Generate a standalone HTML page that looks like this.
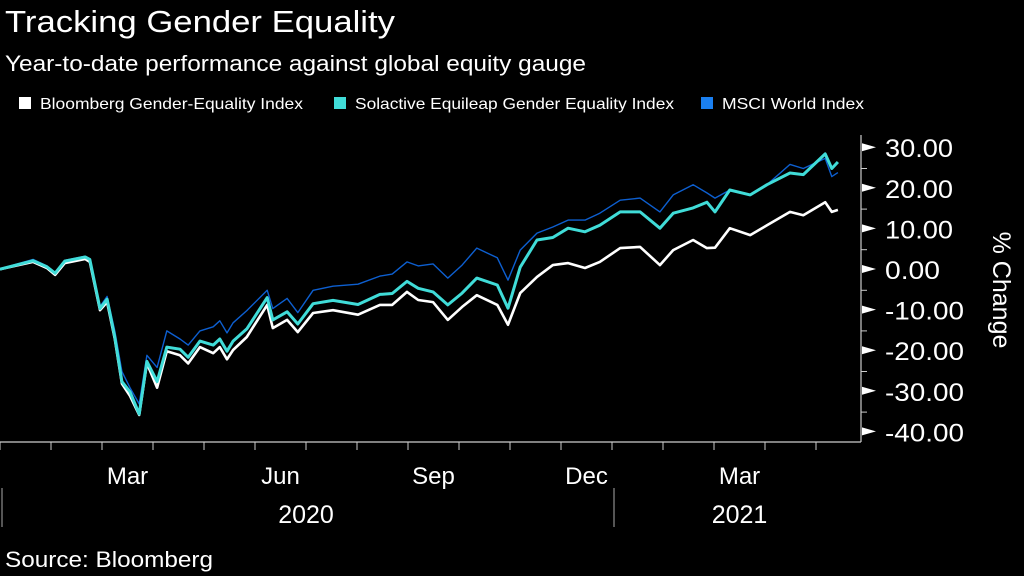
<!DOCTYPE html>
<html><head><meta charset="utf-8"><style>
body{margin:0;background:#000;width:1024px;height:576px;overflow:hidden;font-family:"Liberation Sans",sans-serif;color:#fff}
</style></head><body>
<svg width="1024" height="576" viewBox="0 0 1024 576" style="position:absolute;left:0;top:0">
<text x="5" y="32" font-size="31" fill="#fff" textLength="390" lengthAdjust="spacingAndGlyphs">Tracking Gender Equality</text>
<text x="5" y="71" font-size="22" fill="#fff" textLength="581" lengthAdjust="spacingAndGlyphs">Year-to-date performance against global equity gauge</text>
<g font-size="16" fill="#fff">
<g><rect x="19" y="97" width="12" height="12" fill="#fff"/><text x="40" y="109" textLength="263" lengthAdjust="spacingAndGlyphs">Bloomberg Gender-Equality Index</text></g>
<g><rect x="334" y="97" width="12" height="12" fill="#40dcd8"/><text x="355" y="109" textLength="319" lengthAdjust="spacingAndGlyphs">Solactive Equileap Gender Equality Index</text></g>
<g><rect x="701" y="97" width="12" height="12" fill="#1a7ff0"/><text x="722" y="109" textLength="142" lengthAdjust="spacingAndGlyphs">MSCI World Index</text></g>
</g>
<g id="axes"></g>
<g id="series"></g>
<text x="5" y="567" font-size="22" fill="#fff" textLength="208" lengthAdjust="spacingAndGlyphs">Source: Bloomberg</text>
</svg>
<script>
// dates as months since Jan 1 2020
const dates=[0,0.65,0.92,1.08,1.27,1.67,1.76,1.96,2.1,2.25,2.39,2.55,2.73,2.88,3.08,3.27,3.53,3.69,3.92,4.18,4.31,4.45,4.57,4.84,5.24,5.35,5.63,5.84,6.14,6.53,7.02,7.45,7.69,7.98,8.2,8.49,8.78,9.06,9.35,9.75,9.96,10.2,10.53,10.84,11.14,11.47,11.76,12.16,12.55,12.94,13.2,13.59,13.86,14.02,14.31,14.71,15.04,15.49,15.75,16.18,16.31,16.43];
const bloomberg=[0.2,2,0.5,-1.2,1.7,2.7,2,-9.9,-7.9,-17,-28,-31,-35.7,-23,-29,-20,-21,-23,-19,-20.5,-19,-22,-19.7,-16.5,-8.6,-14.3,-12.3,-15.3,-10.6,-9.9,-11,-8.6,-8.6,-5.4,-7.4,-7.9,-12.3,-9.1,-6.2,-8.6,-13.5,-5.7,-1.7,1.2,1.7,0.5,2,5.4,5.7,1.2,4.9,7.4,5.4,5.5,10.3,8.6,11,14.3,13.5,16.7,14.3,14.8];
const solactive=[0.2,2.3,0.8,-0.8,2.2,3.2,2.6,-9.5,-7.2,-16.5,-27.5,-30,-35.5,-22.5,-27.5,-19,-19.5,-21.5,-17.5,-18.5,-17,-20,-17.5,-14.5,-6.8,-12.3,-10.3,-13.3,-8.3,-7.5,-8.5,-6,-5.8,-2.8,-4.5,-5.4,-8.6,-5.7,-2,-3.7,-9.4,0.7,7.4,8,10.3,9.4,11,14.3,14.3,10.3,14,15.3,16.7,14.3,19.7,18.5,21,23.9,23.5,28.6,25,26.6];
const msci=[0.3,2.6,1,-0.6,2.4,3.4,2.8,-9,-6.5,-15,-25,-29,-33,-21,-24,-15,-17,-18.5,-15,-14,-12.5,-15.5,-13,-10,-5,-9.5,-7,-10.5,-5,-4,-3.5,-1.5,-1,2,1,1.5,-2,1.2,5.4,3,-2.5,4.9,9.1,10.6,12.3,12.3,14,17.2,17.7,14.3,18.5,21,19,17.7,19.7,18.5,21,26,25,27.5,23,24];
const yTicks=[30,20,10,0,-10,-20,-30,-40];
const yTickLabels=["30.00","20.00","10.00","0.00","-10.00","-20.00","-30.00","-40.00"];
const monthTicks=[0,1,2,3,4,5,6,7,8,9,10,11,12,13,14,15,16];
const monthLabels=[{m:2.5,t:"Mar"},{m:5.5,t:"Jun"},{m:8.5,t:"Sep"},{m:11.5,t:"Dec"},{m:14.5,t:"Mar"}];
const yearLabels=[{m:6,t:"2020"},{m:14.5,t:"2021"}];
const yearDividers=[0,12];

const NS="http://www.w3.org/2000/svg";
const X=m=>m*51;
const Y=v=>270-v*4.06;
function mk(tag,attrs,parent){const e=document.createElementNS(NS,tag);for(const k in attrs)e.setAttribute(k,attrs[k]);parent.appendChild(e);return e;}
const axes=document.getElementById('axes'),ser=document.getElementById('series');
let l=mk('line',{x1:0,y1:442,x2:861,y2:442,stroke:'#ccc','stroke-width':1.2},axes);


monthTicks.forEach(m=>{const t=mk('line',{x1:X(m),y1:442,x2:X(m),y2:450,stroke:'#ccc','stroke-width':1},axes);

});
monthLabels.forEach(o=>{const t=mk('text',{x:X(o.m),y:484,'font-size':24,fill:'#fff','text-anchor':'middle'},axes);t.textContent=o.t;

});
yearLabels.forEach(o=>{const t=mk('text',{x:X(o.m),y:523,'font-size':25,fill:'#fff','text-anchor':'middle'},axes);t.textContent=o.t;

});
yearDividers.forEach(m=>{const t=mk('line',{x1:X(m)+2,y1:488,x2:X(m)+2,y2:527,stroke:'#aaa','stroke-width':1},axes);

});
l=mk('line',{x1:861,y1:135,x2:861,y2:442,stroke:'#ccc','stroke-width':1.2},axes);


yTicks.forEach((v,i)=>{const y=Y(v);
const p=mk('polygon',{points:`862,${y-5} 876,${y-1} 862,${y+3}`,fill:'#fff'},axes);


if(v<30){const mt=mk('line',{x1:861,y1:Y(v+5),x2:867,y2:Y(v+5),stroke:'#ccc','stroke-width':1},axes);

}
const t=mk('text',{x:885,y:y+9,'font-size':25,fill:'#fff',textLength:(v<0?79:(v===0?55:68)),lengthAdjust:'spacingAndGlyphs'},axes);t.textContent=yTickLabels[i];

});
const yt=mk('text',{x:0,y:0,'font-size':25,fill:'#fff','text-anchor':'middle',transform:'translate(993,290) rotate(90)'},axes);yt.textContent='% Change';


function line(vals,color,w,name){const d=vals.map((v,i)=>(i?'L':'M')+X(dates[i]).toFixed(1)+','+Y(v).toFixed(1)).join('');
const p=mk('path',{d:d,fill:'none',stroke:color,'stroke-width':w,'stroke-linejoin':'round'},ser);

}
line(msci,'#0d5fd0',1.4,'msci-world-line');
line(bloomberg,'#ffffff',2.6,'bloomberg-gender-equality-line');
line(solactive,'#40dcd8',3,'solactive-equileap-line');
</script>
</body></html>
